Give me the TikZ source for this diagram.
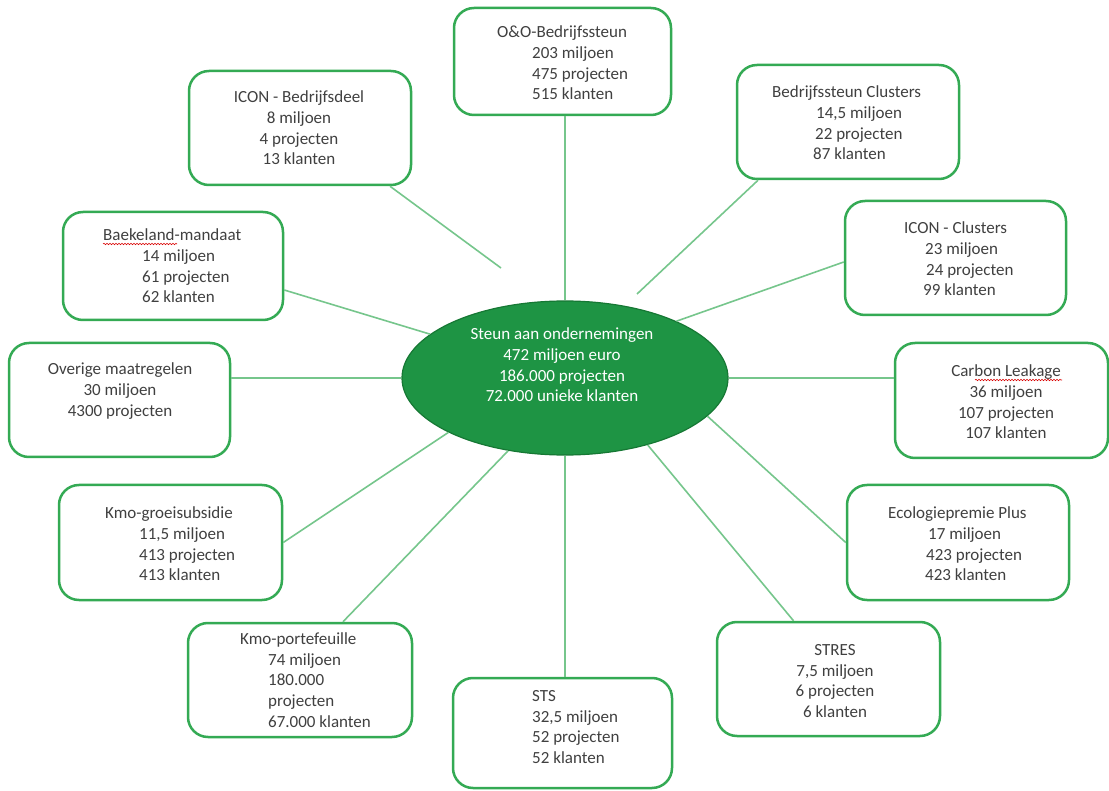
\documentclass[tikz,border=0pt]{standalone}
\usepackage{fontspec}
\setmainfont{Carlito}
\usetikzlibrary{shapes.geometric,calc,decorations.pathmorphing}
\definecolor{boxgreen}{RGB}{52,170,84}
\definecolor{linkgreen}{RGB}{118,198,140}
\definecolor{ellfill}{RGB}{30,148,68}
\definecolor{elldraw}{RGB}{22,120,52}
\definecolor{txtgray}{RGB}{64,64,64}
\tikzset{
  box/.style={draw=boxgreen, line width=2.5pt, rounded corners=20pt, fill=white, rectangle, inner sep=0pt},
  txt/.style={font=\fontsize{17}{20.6}\selectfont, text=txtgray, inner sep=0pt},
  link/.style={draw=linkgreen, line width=1.6pt},
  squig/.style={draw=red!85!black, line width=0.6pt, decorate, decoration={snake, amplitude=0.7pt, segment length=3pt}}
}
\begin{document}
\begin{tikzpicture}[x=1pt,y=-1pt]
\useasboundingbox[fill=white] (0,0) rectangle (1109,791);

% centre ellipse
\node[ellipse, minimum width=326pt, minimum height=154pt, fill=ellfill, draw=elldraw, line width=1.2pt] (c) at (565,378) {};

% boxes
\node[box, minimum width=217pt, minimum height=107pt] (oo) at (562.5,61.5) {};
\node[box, minimum width=222pt, minimum height=114pt] (ib) at (300,128) {};
\node[box, minimum width=222pt, minimum height=114pt] (bc) at (848,122) {};
\node[box, minimum width=221pt, minimum height=114pt] (ic) at (955.5,258) {};
\node[box, minimum width=213pt, minimum height=115pt] (cl) at (1001.5,400.5) {};
\node[box, minimum width=222pt, minimum height=115pt] (ep) at (958,542.5) {};
\node[box, minimum width=223pt, minimum height=114pt] (st) at (828.5,679) {};
\node[box, minimum width=219pt, minimum height=110pt] (sts) at (562.5,733) {};
\node[box, minimum width=224pt, minimum height=114pt] (kp) at (300,680) {};
\node[box, minimum width=223pt, minimum height=115pt] (kg) at (170.5,542.5) {};
\node[box, minimum width=221pt, minimum height=114pt] (om) at (119.5,400) {};
\node[box, minimum width=220pt, minimum height=108pt] (bm) at (173,266) {};

% connectors
\coordinate (ibend) at (501,268);
\coordinate (bcend) at (637,294);
\draw[link] (oo.south -| c.north) -- (c.north);
\draw[link] ([xshift=90pt]ib.south) -- (ibend);
\draw[link] ([xshift=-90pt]bc.south) -- (bcend);
\draw[link] ([yshift=-4pt]ic.west) -- (c.27.5);
\draw[link] (cl.west |- c.east) -- (c.east);
\draw[link] (ep.west) -- (c.345);
\draw[link] ([xshift=-35pt]st.north) -- (c.321.7);
\draw[link] (sts.north -| c.south) -- (c.south);
\draw[link] ([xshift=43pt]kp.north) -- (c.232.7);
\draw[link] (kg.east) -- (c.205);
\draw[link] (om.east |- c.west) -- (c.west);
\draw[link] ([yshift=-24pt]bm.east) -- (c.162.5);

% texts
\node[txt, text=white, align=center] (ct) at (562,365) {Steun aan ondernemingen\\472 miljoen euro\\186.000 projecten\\72.000 unieke klanten};

\node[txt, align=left, anchor=west] (oot) at (497,63) {O\&O-Bedrijfssteun\\\hspace*{35pt}203 miljoen\\\hspace*{35pt}475 projecten\\\hspace*{35pt}515 klanten};
\node[txt, align=center] (ibt) at (299,128) {ICON - Bedrijfsdeel\\8 miljoen\\4 projecten\\13 klanten};
\node[txt, align=left, anchor=west] (bct) at (772,123) {Bedrijfssteun Clusters\\\hspace*{44pt}14,5 miljoen\\\hspace*{43pt}22 projecten\\\hspace*{41pt}87 klanten};
\node[txt, align=left, anchor=west] (ict) at (904,259) {ICON - Clusters\\\hspace*{21pt}23 miljoen\\\hspace*{22pt}24 projecten\\\hspace*{19pt}99 klanten};
\node[txt, align=center] (clt) at (1006,402) {Carbon Leakage\\36 miljoen\\107 projecten\\107 klanten};
\node[txt, align=left, anchor=west] (ept) at (888,544) {Ecologiepremie Plus\\\hspace*{40pt}17 miljoen\\\hspace*{38pt}423 projecten\\\hspace*{37pt}423 klanten};
\node[txt, align=center] (stt) at (835,681) {STRES\\7,5 miljoen\\6 projecten\\6 klanten};
\node[txt, align=left, anchor=west] (stst) at (532,727) {STS\\32,5 miljoen\\52 projecten\\52 klanten};
\node[txt, align=left, anchor=west] (kpt) at (240,680) {Kmo-portefeuille\\\hspace*{28pt}74 miljoen\\\hspace*{28pt}180.000\\\hspace*{28pt}projecten\\\hspace*{28pt}67.000 klanten};
\node[txt, align=left, anchor=west] (kgt) at (105,544) {Kmo-groeisubsidie\\\hspace*{34pt}11,5 miljoen\\\hspace*{34pt}413 projecten\\\hspace*{34pt}413 klanten};
\node[txt, align=center] (omt) at (120,391) {Overige maatregelen\\30 miljoen\\4300 projecten};
\node[txt, align=left, anchor=west] (bmt) at (103,266) {Baekeland-mandaat\\\hspace*{39pt}14 miljoen\\\hspace*{39pt}61 projecten\\\hspace*{39pt}62 klanten};

% spell-check underlines
\draw[squig] (103,244) -- (177,244);
\draw[squig] (975,380) -- (1062,380);
\end{tikzpicture}
\end{document}
